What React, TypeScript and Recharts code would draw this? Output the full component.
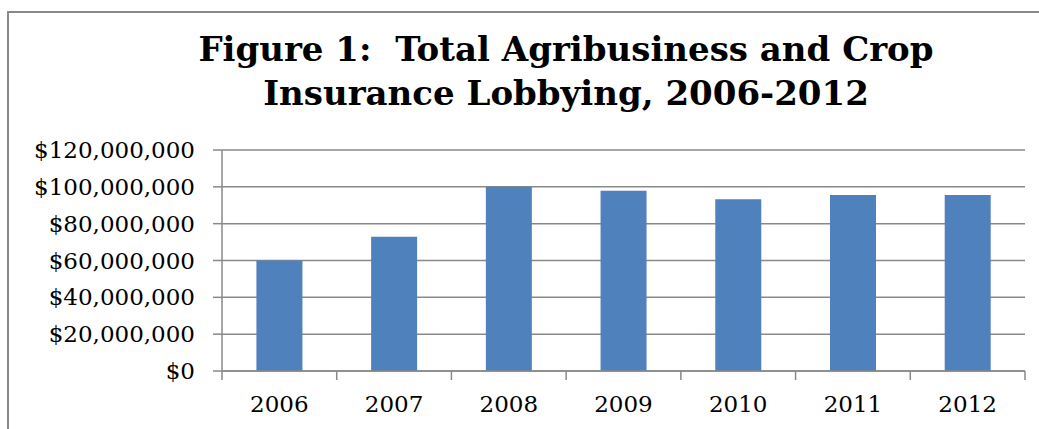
import React from 'react';
import { BarChart, Bar, XAxis, YAxis, CartesianGrid } from 'recharts';

const years = ['2006', '2007', '2008', '2009', '2010', '2011', '2012'];
const lobbying = [60000000, 72900000, 100000000, 97900000, 93200000, 95600000, 95600000];
const yTicks = [0, 20000000, 40000000, 60000000, 80000000, 100000000, 120000000];

const data = years.map((year, i) => ({ year, total: lobbying[i] }));

const GRID = '#898989';
const FONT = '"DejaVu Serif", Georgia, serif';
const TICK_SIZE = 9;
const TICK_MARGIN = 16;

const money = (v: number) => '$' + v.toLocaleString('en-US');

// category ticks sit on the band edges, labels in the middle
const YearTick = (props: any) => {
  const { x, y, payload, index, visibleTicksCount } = props;
  const half = payload.offset || 0;
  const axisY = y - TICK_SIZE - TICK_MARGIN;
  const last = index === visibleTicksCount - 1;
  return (
    <g>
      <line x1={x - half} x2={x - half} y1={axisY} y2={axisY + TICK_SIZE} stroke={GRID} strokeWidth={1.5} />
      {last && (
        <line x1={x + half} x2={x + half} y1={axisY} y2={axisY + TICK_SIZE} stroke={GRID} strokeWidth={1.5} />
      )}
      <text x={x} y={y} dy="0.71em" textAnchor="middle" fill="#000" fontSize={23} fontFamily={FONT}>
        {payload.value}
      </text>
    </g>
  );
};

export default function App() {
  return (
    <div style={{ position: 'absolute', left: 0, top: 0, width: 1039, height: 429, background: '#fff', overflow: 'hidden' }}>
      <div
        style={{
          position: 'absolute',
          left: 7,
          top: 11,
          width: 1100,
          height: 500,
          borderLeft: `2px solid ${GRID}`,
          borderTop: `2px solid ${GRID}`,
        }}
      />
      <div
        style={{
          position: 'absolute',
          left: 66,
          top: 27,
          width: 1000,
          textAlign: 'center',
          fontFamily: FONT,
          fontWeight: 'bold',
          fontSize: 34,
          lineHeight: '44px',
          color: '#000',
        }}
      >
        Figure 1:&nbsp; Total Agribusiness and Crop
        <br />
        Insurance Lobbying, 2006-2012
      </div>
      <div style={{ position: 'absolute', left: 0, top: 0 }}>
        <BarChart
          width={1039}
          height={429}
          data={data}
          margin={{ top: 150, right: 14, bottom: 0, left: 0 }}
          barCategoryGap="30%"
        >
          <CartesianGrid vertical={false} stroke={GRID} strokeWidth={1.5} />
          <XAxis
            dataKey="year"
            height={58}
            axisLine={{ stroke: GRID, strokeWidth: 1.5 }}
            tickLine={{ stroke: 'none' }}
            tickSize={TICK_SIZE}
            tickMargin={TICK_MARGIN}
            tick={<YearTick />}
            interval={0}
          />
          <YAxis
            width={222}
            domain={[0, 120000000]}
            ticks={yTicks}
            tickFormatter={money}
            axisLine={{ stroke: GRID, strokeWidth: 1.5 }}
            tickLine={{ stroke: GRID, strokeWidth: 1.5 }}
            tickSize={TICK_SIZE}
            tickMargin={18}
            tick={{ fill: '#000', fontSize: 23, fontFamily: FONT }}
          />
          <Bar dataKey="total" fill="#4f81bd" isAnimationActive={false} />
        </BarChart>
      </div>
    </div>
  );
}
